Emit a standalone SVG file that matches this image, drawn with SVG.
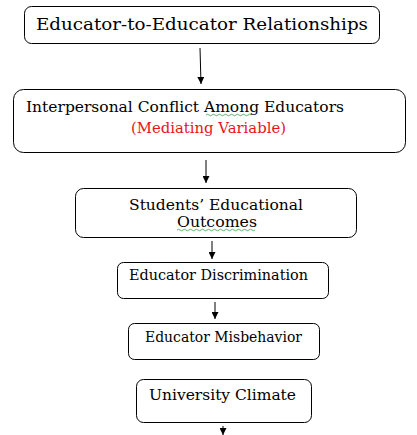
<svg xmlns="http://www.w3.org/2000/svg" width="417" height="435" viewBox="0 0 417 435">
<style>
.box{fill:#fff;stroke:#000;stroke-width:1}
.t{font-family:"DejaVu Serif","Liberation Serif",serif;fill:#000}
.red{fill:#e8141b}
.conn{stroke:#000;stroke-width:1;fill:none}
.sq{stroke:#3aa04a;stroke-width:0.8;fill:none}
</style>
<defs>
<marker id="ah" viewBox="0 0 10 10" refX="10" refY="5" markerWidth="7" markerHeight="7" markerUnits="userSpaceOnUse" orient="auto">
<path d="M0,0 L10,5 L0,10 z" fill="#000"/>
</marker>
</defs>
<rect width="417" height="435" fill="#fff"/>
<g id="connectors">
<line class="conn" x1="200" y1="48" x2="201" y2="84" marker-end="url(#ah)"/>
<line class="conn" x1="206" y1="160" x2="206" y2="183" marker-end="url(#ah)"/>
<line class="conn" x1="212" y1="241" x2="212" y2="259" marker-end="url(#ah)"/>
<line class="conn" x1="215" y1="302" x2="215" y2="319" marker-end="url(#ah)"/>
<line class="conn" x1="223" y1="426" x2="223" y2="435" marker-end="url(#ah)"/>
</g>
<g id="n1">
<rect class="box" x="24.5" y="6.5" width="355" height="37" rx="7"/>
<text class="t" x="36" y="30" font-size="17" textLength="332" lengthAdjust="spacingAndGlyphs">Educator-to-Educator Relationships</text>
</g>
<g id="n2">
<rect class="box" x="13.5" y="89.5" width="392" height="63" rx="10"/>
<text class="t" x="26" y="112" font-size="14" textLength="318" lengthAdjust="spacingAndGlyphs">Interpersonal Conflict Among Educators</text>
<text class="t red" x="131" y="133" font-size="14" textLength="155" lengthAdjust="spacingAndGlyphs">(Mediating Variable)</text>
<path class="sq" d="M206,115 q1.5,-1.5 3,0 t3,0 t3,0 t3,0 t3,0 t3,0 t3,0 t3,0 t3,0 t3,0 t3,0 t3,0 t3,0 t3,0 t3,0"/>
</g>
<g id="n3">
<rect class="box" x="75.5" y="188.5" width="281" height="49" rx="8"/>
<text class="t" x="129" y="210" font-size="14" textLength="174" lengthAdjust="spacingAndGlyphs">Students’ Educational</text>
<text class="t" x="177" y="227" font-size="14" textLength="80" lengthAdjust="spacingAndGlyphs">Outcomes</text>
<path class="sq" d="M177,230 q1.5,-1.5 3,0 t3,0 t3,0 t3,0 t3,0 t3,0 t3,0 t3,0 t3,0 t3,0 t3,0 t3,0 t3,0 t3,0 t3,0 t3,0 t3,0 t3,0 t3,0 t3,0 t3,0 t3,0 t3,0 t3,0 t3,0 t3,0"/>
</g>
<g id="n4">
<rect class="box" x="117.5" y="262.5" width="211" height="36" rx="6"/>
<text class="t" x="129" y="280" font-size="14" textLength="179" lengthAdjust="spacingAndGlyphs">Educator Discrimination</text>
</g>
<g id="n5">
<rect class="box" x="128.5" y="323.5" width="191" height="36" rx="6"/>
<text class="t" x="145" y="342" font-size="14" textLength="157" lengthAdjust="spacingAndGlyphs">Educator Misbehavior</text>
</g>
<g id="n6">
<rect class="box" x="136.5" y="379.5" width="175" height="43" rx="7"/>
<text class="t" x="149" y="400" font-size="14" textLength="147" lengthAdjust="spacingAndGlyphs">University  Climate</text>
</g>
</svg>
